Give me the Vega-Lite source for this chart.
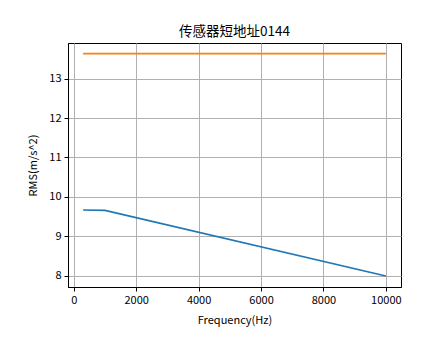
{
  "$schema": "https://vega.github.io/schema/vega-lite/v6.json",
  "width": 333,
  "height": 244,
  "autosize": {"type": "none"},
  "padding": {"left": 68, "top": 43, "right": 43, "bottom": 72},
  "background": "white",
  "title": {"text": "传感器短地址0144", "font": "Noto Sans CJK SC", "fontSize": 13.5, "fontWeight": "normal", "color": "black", "offset": 5},
  "config": {
    "view": {"stroke": "black", "strokeWidth": 1},
    "axis": {
      "labelFont": "Noto Sans CJK SC", "labelFontSize": 11, "labelColor": "black",
      "titleFont": "Noto Sans CJK SC", "titleFontSize": 11, "titleFontWeight": "normal", "titleColor": "black",
      "gridColor": "#b0b0b0", "gridWidth": 1, "gridOpacity": 1,
      "tickColor": "black", "tickSize": 4, "domainColor": "black"
    }
  },
  "data": {"values": [
    {"f": 300, "rms": 9.67, "s": "a"},
    {"f": 1000, "rms": 9.66, "s": "a"},
    {"f": 10000, "rms": 8.0, "s": "a"},
    {"f": 300, "rms": 13.63, "s": "b"},
    {"f": 10000, "rms": 13.63, "s": "b"}
  ]},
  "mark": {"type": "line", "strokeWidth": 1.6},
  "encoding": {
    "x": {"field": "f", "type": "quantitative", "title": "Frequency(Hz)",
      "scale": {"domain": [-185, 10485], "nice": false, "zero": false},
      "axis": {"values": [0, 2000, 4000, 6000, 8000, 10000], "format": "d", "labelPadding": 3, "titlePadding": 9}},
    "y": {"field": "rms", "type": "quantitative", "title": "RMS(m/s^2)",
      "scale": {"domain": [7.72, 13.9], "nice": false, "zero": false},
      "axis": {"values": [8, 9, 10, 11, 12, 13], "format": "d", "labelPadding": 3, "titlePadding": 10}},
    "color": {"field": "s", "type": "nominal", "scale": {"domain": ["a", "b"], "range": ["#1f77b4", "#ff7f0e"]}, "legend": null}
  }
}
